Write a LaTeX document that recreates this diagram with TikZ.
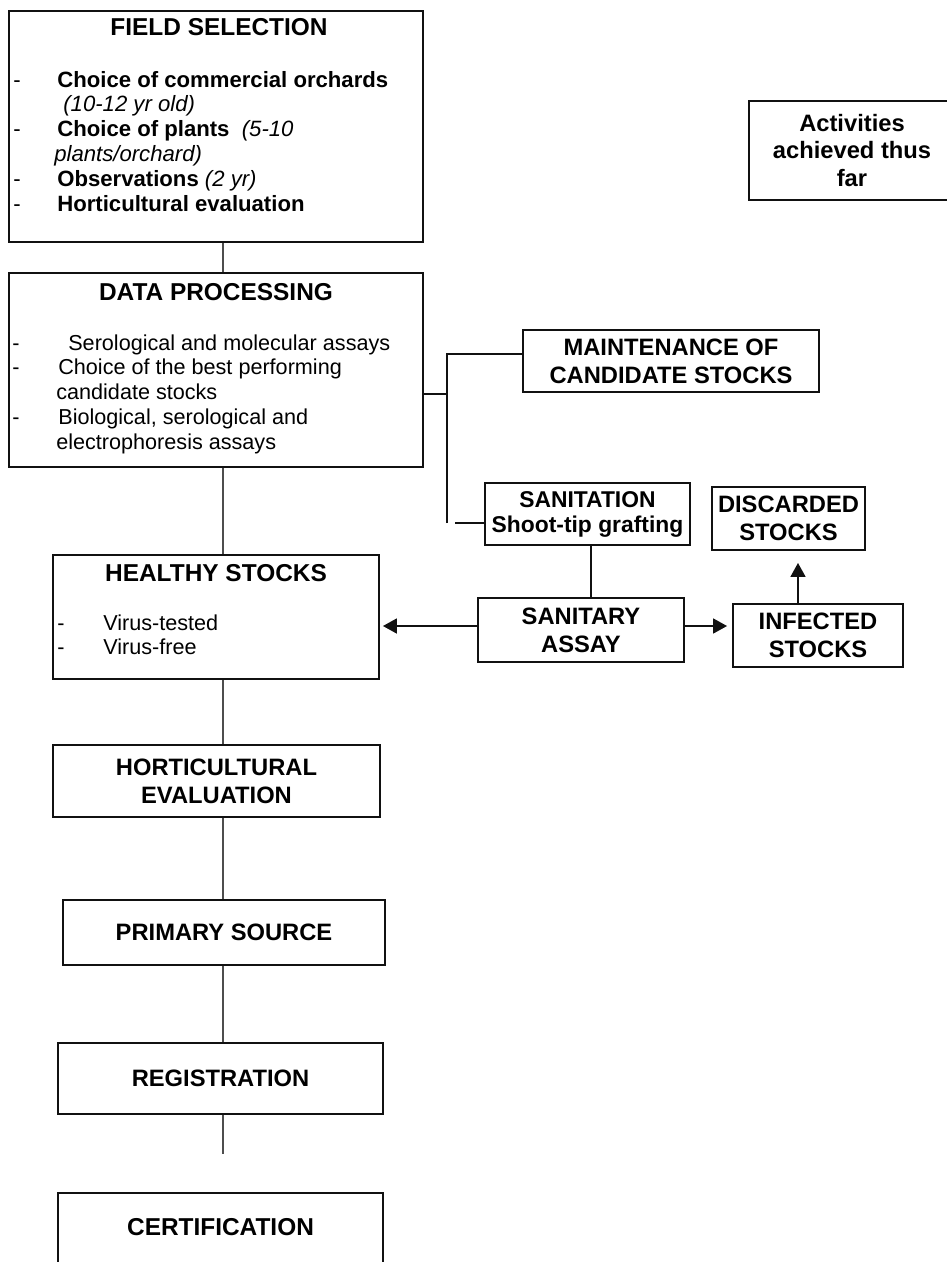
\documentclass[tikz,border=0pt]{standalone}
\usepackage{fontspec}
\setmainfont{Liberation Sans}
\usepackage{tikz}
\usetikzlibrary{arrows.meta,positioning,calc}
\definecolor{FlowInk} {HTML}{111111}
\definecolor{FlowGray}{HTML}{4D4D4D}

\begin{document}
\begin{tikzpicture}[x=0.02cm,y=-0.02cm,
    box/.style={draw=FlowInk,line width=1.1pt,rectangle,inner sep=0pt,align=center,
      font=\fontsize{13.5}{15.9}\selectfont\bfseries},
    ttl/.style={font=\fontsize{13.9}{15.9}\selectfont\bfseries,anchor=base,inner sep=0pt},
    lst/.style={font=\fontsize{12.3}{14.2}\selectfont,anchor=base west,inner sep=0pt},
    spine/.style={FlowGray,line width=0.7pt},
    link/.style={FlowInk,line width=1pt},
    arr/.style={link,-{Triangle[length=0.28cm,width=0.30cm]}}]
    \useasboundingbox (0,0) rectangle (947,1262);
    \clip (0,0) rectangle (947,1262);
    % Main column
    \node[box,minimum width=8.28cm,minimum height=4.62cm] (field) at (216,126.5) {};
    \node[ttl] (fieldttl) at (219,35) {FIELD SELECTION};
    \node[lst,font=\fontsize{12.6}{14.2}\selectfont] (fieldlst) at (13,87) {\begin{tabular}[t]{@{}p{0.88cm}@{}l@{}}
      -&\textbf{Choice of commercial orchards}\\
       &\hspace{0.12cm}\textit{(10-12 yr old)}\\
      -&\textbf{Choice of plants}\ \ \textit{(5-10}\\
       &\hspace{-0.06cm}\textit{plants/orchard)}\\
      -&\textbf{Observations} \textit{(2 yr)}\\
      -&\textbf{Horticultural evaluation}
    \end{tabular}};
    \node[box,minimum width=8.28cm,minimum height=3.88cm] (data) at (216,370) {};
    \node[ttl] (datattl) at (216,300) {DATA PROCESSING};
    \node[lst] (datalst) at (12,350) {\begin{tabular}[t]{@{}p{0.92cm}@{}l@{}}
      -&\hspace{0.2cm}Serological and molecular assays\\
      -&Choice of the best performing\\
       &\hspace{-0.04cm}candidate stocks\\
      -&Biological, serological and\\
       &\hspace{-0.04cm}electrophoresis assays
    \end{tabular}};
    \node[box,minimum width=6.52cm,minimum height=2.48cm] (healthy) at (216,617) {};
    \node[ttl] (healthyttl) at (216,581) {HEALTHY STOCKS};
    \node[lst] (healthylst) at (57,630) {\begin{tabular}[t]{@{}p{0.92cm}@{}l@{}}
      -&Virus-tested\\
      -&Virus-free
    \end{tabular}};
    \node[box,minimum width=6.54cm,minimum height=1.44cm] (hort) at (216.5,781) {HORTICULTURAL\\EVALUATION};
    \node[box,minimum width=6.44cm,minimum height=1.30cm] (primary) at (224,932.5) {PRIMARY SOURCE};
    \node[box,minimum width=6.50cm,minimum height=1.42cm] (reg) at (220.5,1078.5) {REGISTRATION};
    \node[box,minimum width=6.50cm,minimum height=4.14cm] (cert) at (220.5,1296.5) {};
    \node[ttl] (certttl) at (220.5,1235) {CERTIFICATION};
    % Side boxes
    \node[box,minimum width=4.12cm,minimum height=1.98cm] (legend) at (852,150.5) {Activities\\achieved thus\\far};
    \node[box,minimum width=5.92cm,minimum height=1.24cm] (maint) at (671,361) {MAINTENANCE OF\\CANDIDATE STOCKS};
    \node[box,minimum width=4.10cm,minimum height=1.24cm,font=\fontsize{13}{14.2}\selectfont\bfseries] (sanit) at (587.5,514) {SANITATION\\Shoot-tip grafting};
    \node[box,minimum width=4.12cm,minimum height=1.28cm] (assay) at (581,630) {SANITARY\\ASSAY};
    \node[box,minimum width=3.40cm,minimum height=1.26cm] (infected) at (818,635.5) {INFECTED\\STOCKS};
    \node[box,minimum width=3.06cm,minimum height=1.26cm] (discard) at (788.5,518.5) {DISCARDED\\STOCKS};
    % Spine
    \coordinate (spinex) at (223,0);
    \foreach \a/\b in {field/data,data/healthy,healthy/hort,hort/primary,primary/reg}{
      \draw[spine] (\a.south -| spinex) -- (\b.north -| spinex);
    }
    \coordinate (regend) at (223,1154);
    \draw[spine] (reg.south -| spinex) -- (regend);
    % Bracket to the side boxes
    \coordinate (brk) at (447,394);
    \coordinate (brktop) at (447,354);
    \coordinate (brkbot) at (447,523);
    \draw[link] (data.east |- brk) -- (brk);
    \draw[link] (brkbot) -- (brktop) -- (brktop -| maint.west);
    \draw[link] ([xshift=0.16cm]brkbot) -- (brkbot -| sanit.west);
    \coordinate (sanx) at (591,0);
    \draw[link] (sanit.south -| sanx) -- (assay.north -| sanx);
    \coordinate (arry) at (0,626);
    \draw[arr,shorten >=0.06cm] (assay.west |- arry) -- (healthy.east |- arry);
    \draw[arr,shorten >=0.10cm] (assay.east |- arry) -- (infected.west |- arry);
    \coordinate (upx) at (798,0);
    \draw[arr,shorten >=0.24cm] (infected.north -| upx) -- (discard.south -| upx);
\end{tikzpicture}
\end{document}
